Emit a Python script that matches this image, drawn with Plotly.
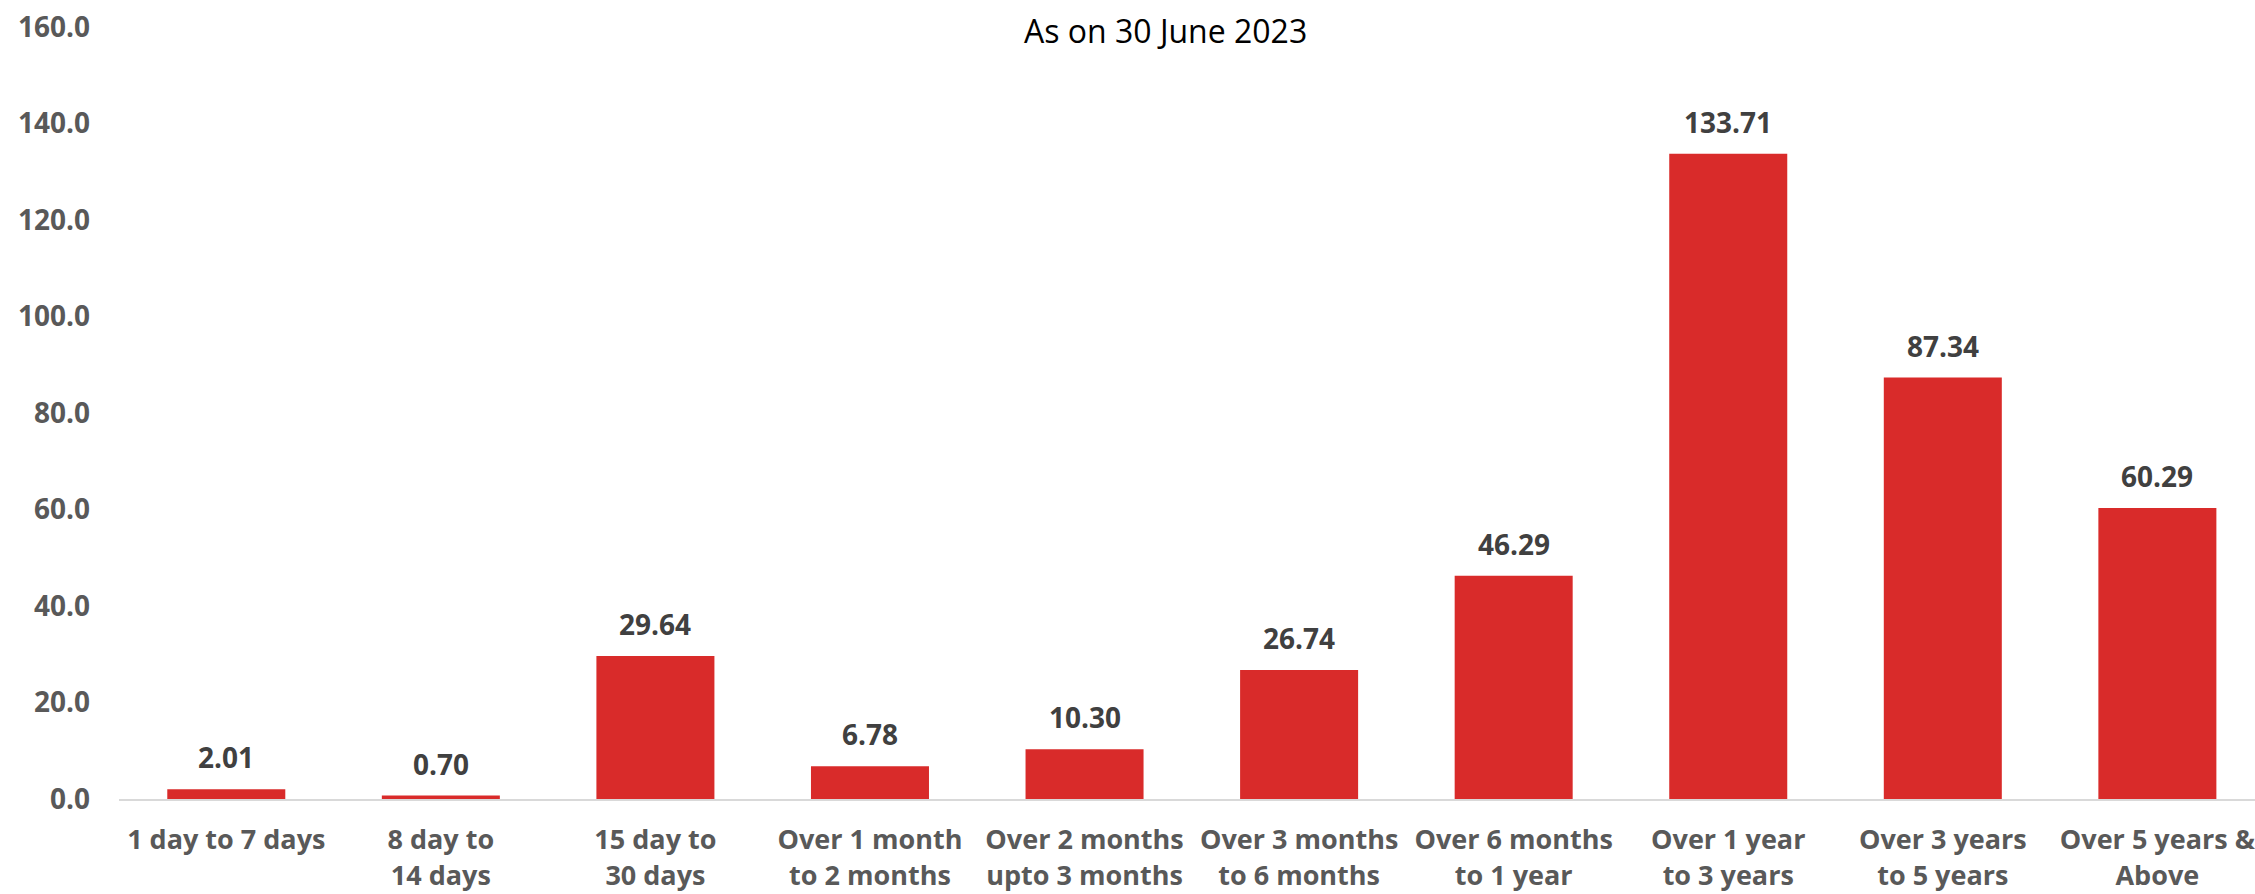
import plotly.graph_objects as go

# -------------------------------
# DATA
# -------------------------------

buckets = [
    "1 day to 7 days",
    "8 day to<br>14 days",
    "15 day to<br>30 days",
    "Over 1 month<br>to 2 months",
    "Over 2 months<br>upto 3 months",
    "Over 3 months<br>to 6 months",
    "Over 6 months<br>to 1 year",
    "Over 1 year<br>to 3 years",
    "Over 3 years<br>to 5 years",
    "Over 5 years &<br>Above",
]
amounts = [2.01, 0.70, 29.64, 6.78, 10.30, 26.74, 46.29, 133.71, 87.34, 60.29]
y_ticks = [0, 20, 40, 60, 80, 100, 120, 140, 160]

FONT = "Open Sans"
BAR_RED = "#D92B2A"

# -------------------------------
# BARS
# -------------------------------

fig = go.Figure()
fig.add_trace(
    go.Bar(
        x=list(range(len(buckets))),
        y=amounts,
        width=0.55,
        marker=dict(color=BAR_RED, line=dict(width=0)),
        hoverinfo="x+y",
    )
)

# value labels above bars
for i, v in enumerate(amounts):
    fig.add_annotation(
        x=i, y=v, text="<b>%.2f</b>" % v,
        showarrow=False, yanchor="bottom", yshift=11,
        font=dict(family=FONT, size=28, color="#404040"),
    )

# chart title
fig.add_annotation(
    x=0.4898, xref="paper", y=1.0, yref="paper", yanchor="middle", yshift=-3,
    text="As on 30 June 2023", showarrow=False,
    font=dict(family=FONT, size=32, color="#000000"),
)

# -------------------------------
# LAYOUT
# -------------------------------

fig.update_layout(
    width=2255,
    height=894,
    margin=dict(l=119, r=0, t=27, b=95),
    plot_bgcolor="white",
    paper_bgcolor="white",
    showlegend=False,
    xaxis=dict(
        range=[-0.5, 9.455],
        tickmode="array",
        tickvals=list(range(len(buckets))),
        ticktext=["<b>%s</b>" % b.replace("<br>", "</b><br><b>") for b in buckets],
        tickfont=dict(family=FONT, size=27, color="#595959"),
        showline=True, linecolor="#D9D9D9", linewidth=2,
        showgrid=False, zeroline=False, ticks="",
        ticklabelstandoff=16,
        ticklabeloverflow="allow",
        automargin=False,
    ),
    yaxis=dict(
        range=[0, 160],
        tickmode="array",
        tickvals=y_ticks,
        ticktext=["<b>%.1f</b>" % t for t in y_ticks],
        tickfont=dict(family=FONT, size=28, color="#595959"),
        showline=False, showgrid=False, zeroline=False, ticks="",
        ticklabelstandoff=28,
        ticklabeloverflow="allow",
        automargin=False,
    ),
)

# drop the default page margin so the figure sits at the window corner
fig.write_html(
    "out.html",
    config={"displayModeBar": False},
    post_script="document.body.style.margin='0';",
)
